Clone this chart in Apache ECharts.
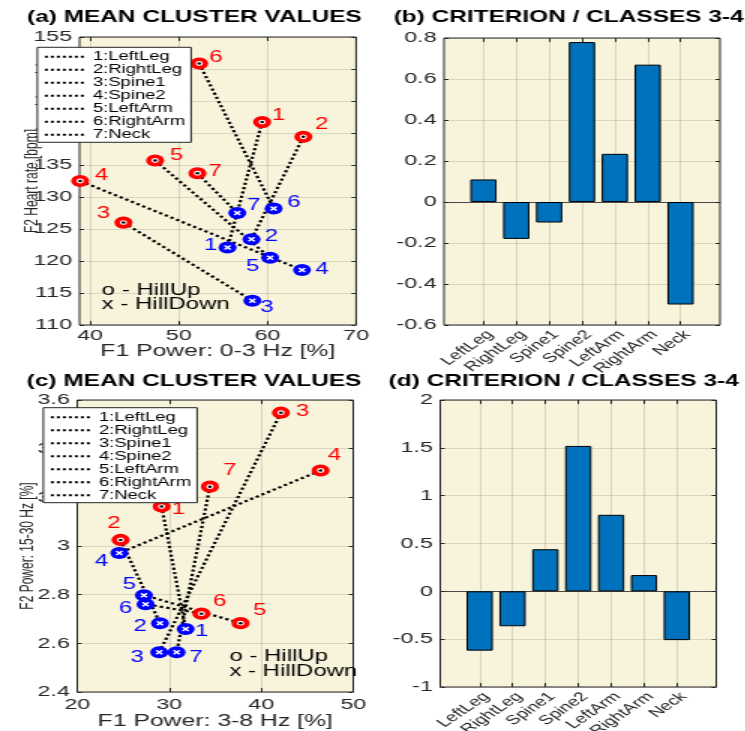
<!DOCTYPE html>
<html><head><meta charset="utf-8">
<script src="https://cdn.jsdelivr.net/npm/echarts@6/dist/echarts.min.js"></script>
<style>
html,body{margin:0;padding:0;background:#fff;overflow:hidden;}
#wrap{width:745px;height:731px;overflow:hidden;}
#chart{width:497px;height:731px;transform:scaleX(1.5);transform-origin:0 0;}
</style></head><body><div id="wrap"><div id="chart"></div></div>
<script>
// ---------------- data ----------------
const parts = ['LeftLeg', 'RightLeg', 'Spine1', 'Spine2', 'LeftArm', 'RightArm', 'Neck'];
const legendNames = parts.map((p, i) => (i + 1) + ':' + p);

// (a) mean cluster values: F1 power 0-3 Hz vs heart rate
const aUpX = [59.4, 64.05, 43.76, 38.87, 47.33, 52.3, 52.1];
const aUpY = [141.7, 139.4, 126.0, 132.5, 135.7, 150.85, 133.7];
const aDownX = [55.5, 58.2, 58.3, 63.9, 60.3, 60.7, 56.6];
const aDownY = [122.1, 123.4, 113.8, 118.6, 120.5, 128.2, 127.5];

// (c) mean cluster values: F1 power 3-8 Hz vs F2 power 15-30 Hz
const cUpX = [29.17, 24.71, 42.14, 46.45, 37.75, 33.5, 34.42];
const cUpY = [3.162, 3.025, 3.548, 3.31, 2.683, 2.722, 3.244];
const cDownX = [31.78, 28.99, 28.91, 24.57, 27.25, 27.43, 30.80];
const cDownY = [2.659, 2.683, 2.563, 2.971, 2.798, 2.761, 2.563];

// (b), (d) criterion / classes 3-4
const criterionB = [0.11, -0.18, -0.10, 0.78, 0.235, 0.67, -0.50];
const criterionD = [-0.62, -0.365, 0.44, 1.52, 0.80, 0.17, -0.51];

// axis ranges [min, max, step] and tick values
const aXRange = [38.8, 70];
const aXTicks = [40, 50, 60, 70];
const aYRange = [110, 155, 5];
const cXRange = [20, 50, 10];
const cYRange = [2.4, 3.6, 0.2];
const bYRange = [-0.6, 0.8, 0.2];
const dYRange = [-1, 2, 0.5];

const titles = ['(a) MEAN CLUSTER VALUES', '(b) CRITERION / CLASSES 3-4', '(c) MEAN CLUSTER VALUES', '(d) CRITERION / CLASSES 3-4'];
const axisNames = {aX: 'F1 Power: 0-3 Hz [%]', aY: 'F2 Heart rate [bpm]', cX: 'F1 Power: 3-8 Hz [%]', cY: 'F2 Power: 15-30 Hz [%]'};
const markerNote = ['o - HillUp', 'x - HillDown'];

// ---------------- layout / style ----------------
const LAY = {
  a: {left: 53, top: 37, width: 184.4, height: 288},
  b: {left: 296, top: 38, width: 184, height: 287},
  c: {left: 51.5, top: 400, width: 184, height: 292},
  d: {left: 293.5, top: 400, width: 184, height: 287}
};
const aUpOff = [[11,-7],[12.2,-12.7],[-13.3,-9.3],[14.4,-5.7],[14.4,-5.3],[11.1,-6],[11.8,-1.7]];
const aDownOff = [[-11.3,-2],[13.3,-2.7],[9.6,6.7],[13.3,-0.7],[-11.6,9],[13.6,-6],[11.1,-7]];
const cUpOff = [[11.1,3.3],[-4.4,-16.7],[14.4,-1],[9.1,-14.7],[12.9,-12.7],[12.2,-11.7],[13.3,-15.7]];
const cDownOff = [[10.7,2.3],[-13.3,3.3],[-14.7,5],[-11.8,8.3],[-9.8,-10.3],[-13.3,4],[12.9,5.7]];

const AX = '#262626';
const GRIDC = 'rgba(38,38,38,0.15)';
const BG = '#f8f4dc';
const FONT = 'Liberation Sans';
const TICKF = 15.5;

function inner(g) {
  const pad = g.width * 0.2 / 8.4;
  return {left: g.left + pad, top: g.top, width: g.width - 2 * pad, height: g.height, show: false,
    containLabel: false, outerBoundsMode: 'none'};
}
function frame(g) {
  return Object.assign({}, g, {show: true, backgroundColor: BG, borderColor: AX, borderWidth: 1,
    containLabel: false, outerBoundsMode: 'none'});
}

const grids = [frame(LAY.a), frame(LAY.b), inner(LAY.b), frame(LAY.c), frame(LAY.d), inner(LAY.d)];

function valAxis(gi, pos, r, opts) {
  const isX = pos === 'bottom' || pos === 'top';
  const main = pos === 'bottom' || pos === 'left';
  const ax = {
    gridIndex: gi, type: 'value', position: pos, min: r[0], max: r[1],
    axisLine: {show: false, onZero: false},
    axisTick: {show: true, inside: true, length: isX ? 4 : 3, lineStyle: {color: AX}},
    axisLabel: {show: main, color: AX, fontSize: TICKF, fontFamily: FONT, margin: isX ? 3 : 5},
    splitLine: {show: main, lineStyle: {color: GRIDC, width: 1}}
  };
  if (r.length > 2) ax.interval = r[2];
  return Object.assign(ax, opts || {});
}
function zeroAxis(gi) {
  return {gridIndex: gi, type: 'value', min: 0, max: 1, position: 'bottom',
    axisLine: {show: true, onZero: true, lineStyle: {color: '#4a4a4a', width: 1}},
    axisTick: {show: false}, axisLabel: {show: false}, splitLine: {show: false}};
}
const padCats = [''].concat(parts, ['']);
function catAxis(gi, pos) {
  const main = pos === 'bottom';
  return {gridIndex: gi, type: 'category', data: padCats, boundaryGap: false, position: pos,
    axisLine: {show: false, onZero: false},
    axisTick: {show: true, inside: true, length: 4, interval: (i, v) => v !== '', lineStyle: {color: AX}},
    axisLabel: {show: main, rotate: 45, interval: 0, color: AX, fontSize: 13, fontFamily: FONT, margin: 3,
      verticalAlign: 'top'},
    splitLine: {show: main, interval: (i, v) => v !== '', lineStyle: {color: GRIDC, width: 1}}};
}
const nameStyle = (fs) => ({fontSize: fs, color: AX, fontFamily: FONT});

const xAxis = [
  valAxis(0, 'bottom', aXRange, {
    axisTick: {show: true, inside: true, length: 4, lineStyle: {color: AX}, customValues: aXTicks},
    axisLabel: {color: AX, fontSize: TICKF, fontFamily: FONT, margin: 3, customValues: aXTicks},
    name: axisNames.aX, nameLocation: 'middle', nameGap: 18, nameMoveOverlap: false, nameTextStyle: nameStyle(16.5)}),
  valAxis(0, 'top', aXRange, {
    axisTick: {show: true, inside: true, length: 4, lineStyle: {color: AX}, customValues: aXTicks},
    axisLabel: {show: false, customValues: aXTicks}}),
  zeroAxis(1),
  catAxis(2, 'bottom'),
  catAxis(2, 'top'),
  valAxis(3, 'bottom', cXRange, {axisLabel: {color: AX, fontSize: TICKF, fontFamily: FONT, margin: 5},
    name: axisNames.cX, nameLocation: 'middle', nameGap: 21, nameMoveOverlap: false, nameTextStyle: nameStyle(16.5)}),
  valAxis(3, 'top', cXRange),
  zeroAxis(4),
  catAxis(5, 'bottom'),
  catAxis(5, 'top')
];
const hiddenY = (gi, r) => ({gridIndex: gi, type: 'value', min: r[0], max: r[1], show: false, axisLine: {onZero: false}});
const yAxis = [
  valAxis(0, 'left', aYRange, {name: axisNames.aY, nameLocation: 'middle', nameGap: 25, nameMoveOverlap: false,
    nameTextStyle: nameStyle(12)}),
  valAxis(0, 'right', aYRange),
  valAxis(1, 'left', bYRange),
  valAxis(1, 'right', bYRange),
  hiddenY(2, bYRange),
  valAxis(3, 'left', cYRange, {name: axisNames.cY, nameLocation: 'middle', nameGap: 26.5, nameMoveOverlap: false,
    nameTextStyle: nameStyle(12)}),
  valAxis(3, 'right', cYRange),
  valAxis(4, 'left', dYRange),
  valAxis(4, 'right', dYRange),
  hiddenY(5, dYRange)
];

const xPath = 'path://M2,0L5,3L8,0L10,2L7,5L10,8L8,10L5,7L2,10L0,8L3,5L0,2Z';

function scatterPanel(xi, yi, upX, upY, dnX, dnY, upOff, dnOff) {
  const s = [];
  for (let i = 0; i < upX.length; i++) {
    s.push({type: 'line', name: legendNames[i], xAxisIndex: xi, yAxisIndex: yi,
      data: [[upX[i], upY[i]], [dnX[i], dnY[i]]], symbol: 'none', silent: true, z: 2,
      itemStyle: {color: '#000'},
      lineStyle: {color: '#000', width: 2.2, type: 'dotted'}});
  }
  s.push({type: 'scatter', xAxisIndex: xi, yAxisIndex: yi, z: 3, symbol: 'circle', symbolSize: 8.5,
    itemStyle: {color: '#fff', borderColor: '#ff0000', borderWidth: 3.6, opacity: 1},
    label: {show: true, position: 'inside', formatter: p => String(p.dataIndex + 1), color: '#ff0000', fontSize: 16, fontFamily: FONT},
    data: upX.map((x, i) => ({value: [x, upY[i]], label: {offset: upOff[i]}}))});
  s.push({type: 'scatter', xAxisIndex: xi, yAxisIndex: yi, z: 4, symbol: 'circle', symbolSize: 2.5,
    itemStyle: {color: '#000', opacity: 1}, silent: true,
    data: upX.map((x, i) => [x, upY[i]])});
  s.push({type: 'scatter', xAxisIndex: xi, yAxisIndex: yi, z: 3, symbol: 'circle', symbolSize: 12,
    itemStyle: {color: '#0000ff', opacity: 1},
    label: {show: true, position: 'inside', formatter: p => String(p.dataIndex + 1), color: '#0000ff', fontSize: 16, fontFamily: FONT},
    data: dnX.map((x, i) => ({value: [x, dnY[i]], label: {offset: dnOff[i]}}))});
  s.push({type: 'scatter', xAxisIndex: xi, yAxisIndex: yi, z: 4, symbol: xPath, symbolSize: 5,
    itemStyle: {color: '#fff', opacity: 1}, silent: true,
    data: dnX.map((x, i) => [x, dnY[i]])});
  return s;
}
function barSeries(xi, yi, vals) {
  return {type: 'bar', xAxisIndex: xi, yAxisIndex: yi, barWidth: '80%', z: 3,
    itemStyle: {color: '#0072BD', borderColor: '#000', borderWidth: 1},
    data: ['-'].concat(vals, ['-'])};
}

const series = []
  .concat(scatterPanel(0, 0, aUpX, aUpY, aDownX, aDownY, aUpOff, aDownOff))
  .concat([barSeries(3, 4, criterionB)])
  .concat(scatterPanel(5, 5, cUpX, cUpY, cDownX, cDownY, cUpOff, cDownOff))
  .concat([barSeries(8, 9, criterionD)]);

function legendAt(left, top) {
  return {data: legendNames, left: left, top: top, orient: 'vertical', itemWidth: 27, itemHeight: 10, itemGap: 1,
    padding: [3.5, 4, 1.5, 4], backgroundColor: '#fff', borderColor: '#262626', borderWidth: 1,
    selectedMode: false, itemStyle: {opacity: 0},
    lineStyle: {color: '#000', width: 2, type: 'dotted'},
    textStyle: {fontSize: 12.3, color: '#000', fontFamily: FONT}};
}

function titleAt(text, left, top) {
  return {text: text, left: left, top: top, padding: 0,
    textStyle: {fontSize: 16.3, fontWeight: 'bold', color: '#000', fontFamily: FONT}};
}
function note(text, left, top) {
  return {type: 'text', left: left, top: top, z: 10,
    style: {text: text, fill: '#000', font: '16px "Liberation Sans"'}};
}

const option = {
  animation: false,
  textStyle: {fontFamily: FONT},
  title: [titleAt(titles[0], 18, 10), titleAt(titles[1], 262.4, 10), titleAt(titles[2], 17.8, 373.7), titleAt(titles[3], 259.1, 373.7)],
  legend: [legendAt(24.9, 47.3), legendAt(28.9, 407.7)],
  grid: grids,
  xAxis: xAxis,
  yAxis: yAxis,
  series: series,
  graphic: [note(markerNote[0], 67.8, 282.7), note(markerNote[1], 67.8, 297), note(markerNote[0], 152.9, 648.7), note(markerNote[1], 152.9, 663.7)]
};

const chart = echarts.init(document.getElementById('chart'), null, {renderer: 'canvas'});
chart.setOption(option);
</script></body></html>
